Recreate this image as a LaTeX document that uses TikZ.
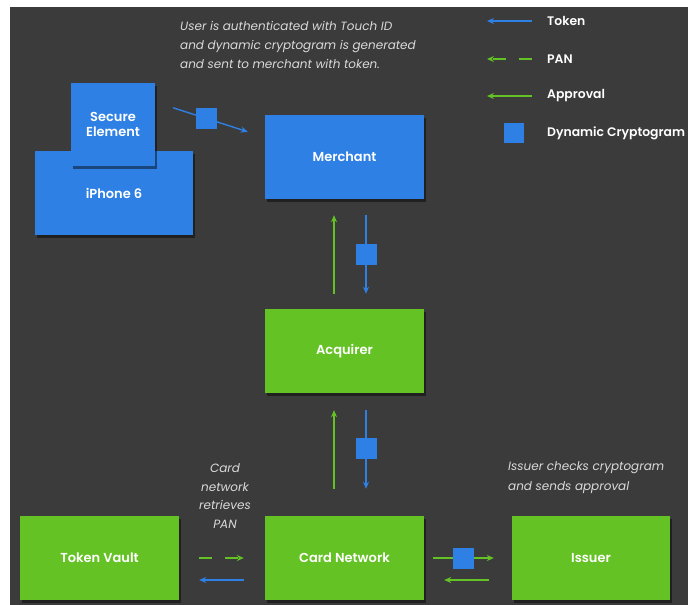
\documentclass[tikz,border=0pt]{standalone}
\usepackage{fontspec}
\setmainfont{Poppins}
\newfontfamily\medfont{Poppins SemiBold}
\usetikzlibrary{arrows.meta,shadows}
\definecolor{bgc}{RGB}{59,59,59}
\definecolor{bluec}{RGB}{46,128,228}
\definecolor{greenc}{RGB}{100,194,36}
\definecolor{capc}{RGB}{218,218,218}
\tikzset{
  box/.style={rectangle, inner sep=0pt, text=white,
    font=\fontsize{13}{15.5}\selectfont\medfont, align=center,
    drop shadow={shadow xshift=2pt, shadow yshift=-3pt, opacity=0.45, fill=black}},
  bluebox/.style={box, fill=bluec},
  greenbox/.style={box, fill=greenc},
  tip/.style={-{Stealth[length=7pt,width=6pt]}},
  tokenline/.style={tip, draw=bluec, line width=1.4pt},
  approvalline/.style={tip, draw=greenc, line width=1.4pt},
  panline/.style={tip, draw=greenc, line width=1.4pt, dash pattern=on 13pt off 13pt},
  crypto/.style={rectangle, fill=bluec, minimum width=21pt, minimum height=21pt, inner sep=0pt},
  caption/.style={text=capc, inner sep=0pt, font=\fontsize{12}{19}\selectfont\itshape},
  legendtext/.style={text=white, anchor=west, inner sep=0pt, font=\fontsize{12.4}{15}\selectfont\medfont}
}
\begin{document}
\begin{tikzpicture}[x=1pt,y=-1pt]
\fill[white] (0,0) rectangle (688,605);
\useasboundingbox (0,0) rectangle (688,605);
\fill[bgc] (10,7) rectangle (688,605);

% boxes
\node[bluebox, minimum width=158pt, minimum height=84pt] (iphone) at (114,193) {iPhone 6};
\node[bluebox, minimum width=84pt, minimum height=83pt] (se) at (113,124.5) {Secure\\Element};
\node[bluebox, minimum width=159pt, minimum height=84pt] (mer) at (344.5,157) {Merchant};
\node[greenbox, minimum width=159pt, minimum height=84pt] (acq) at (344.5,351) {Acquirer};
\node[greenbox, minimum width=159pt, minimum height=84pt] (cn) at (344.5,558) {Card Network};
\node[greenbox, minimum width=159pt, minimum height=84pt] (tv) at (99.5,558) {Token Vault};
\node[greenbox, minimum width=158pt, minimum height=84pt] (iss) at (591,558) {Issuer};

% secure element -> merchant
\draw[tokenline] ([shift={(18,25)}]se.north east) -- node[crypto, pos=0.45] (c1) {} ([shift={(-17,17)}]mer.north west);

% merchant <-> acquirer
\draw[approvalline, shorten <=15pt, shorten >=16pt] ([xshift=-10.5pt]acq.north) -- ([xshift=-10.5pt]mer.south);
\draw[tokenline, shorten <=16pt, shorten >=15pt] ([xshift=21.5pt]mer.south) -- node[crypto, pos=0.5] (c2) {} ([xshift=21.5pt]acq.north);

% acquirer <-> card network
\draw[approvalline, shorten <=27pt, shorten >=17pt] ([xshift=-10.5pt]cn.north) -- ([xshift=-10.5pt]acq.south);
\draw[tokenline, shorten <=17pt, shorten >=27pt] ([xshift=21.5pt]acq.south) -- node[crypto, pos=0.45] (c3) {} ([xshift=21.5pt]cn.north);

% token vault <-> card network
\draw[panline, shorten <=20pt, shorten >=21pt] (tv.east) -- (cn.west);
\draw[tokenline, shorten <=21pt, shorten >=20pt] ([yshift=-22pt]cn.west) -- ([yshift=-22pt]tv.east);

% card network <-> issuer
\draw[approvalline, shorten <=9pt, shorten >=18pt] (cn.east) -- node[crypto, pos=0.45] (c4) {} (iss.west);
\draw[approvalline, shorten <=23pt, shorten >=20pt] ([yshift=-22pt]iss.west) -- ([yshift=-22pt]cn.east);

% captions
\node[caption, anchor=north west, align=left] (cap1) at (180,21) {User is authenticated with Touch ID\\and dynamic cryptogram is generated\\and sent to merchant with token.};
\node[caption, align=center, font=\fontsize{12}{18.7}\selectfont\itshape] (cap2) at (225,496) {Card\\network\\retrieves\\PAN};
\node[caption, anchor=north west, align=left, font=\fontsize{12}{20}\selectfont\itshape] (cap3) at (508,461) {Issuer checks cryptogram\\and sends approval};

% legend
\coordinate (l1a) at (532,21); \coordinate (l1b) at (487,21);
\coordinate (l2a) at (532,59); \coordinate (l2b) at (487,59);
\coordinate (l3a) at (532,96); \coordinate (l3b) at (487,96);
\draw[tokenline] (l1a) -- (l1b);
\draw[panline] (l2a) -- (l2b);
\draw[approvalline] (l3a) -- (l3b);
\node[crypto, minimum width=20pt, minimum height=20pt] (l4) at (514,133) {};
\node[legendtext] (t1) at (547,21) {Token};
\node[legendtext] (t2) at (547,59) {PAN};
\node[legendtext] (t3) at (547,96) {Approval};
\node[legendtext] (t4) at (547,133) {Dynamic Cryptogram};
\end{tikzpicture}
\end{document}
